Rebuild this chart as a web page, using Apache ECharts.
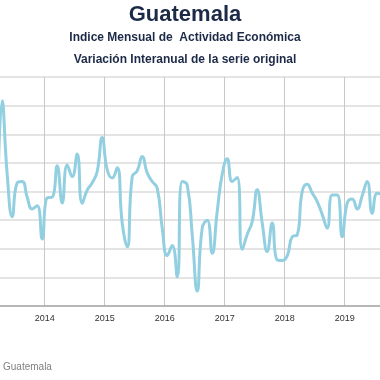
<!DOCTYPE html>
<html>
<head>
<meta charset="utf-8">
<script src="https://cdn.jsdelivr.net/npm/echarts@6/dist/echarts.min.js"></script>
<style>
html,body{margin:0;padding:0;background:#fff;overflow:hidden;width:380px;height:380px;position:relative}
#c{position:absolute;left:-40px;top:0;width:450px;height:380px}
</style>
</head>
<body>
<div id="c"></div>
<script>
var months = [
  '2013-03','2013-04','2013-05','2013-06','2013-07','2013-08','2013-09','2013-10','2013-11','2013-12',
  '2014-01','2014-02','2014-03','2014-04','2014-05','2014-06','2014-07','2014-08','2014-09','2014-10','2014-11','2014-12',
  '2015-01','2015-02','2015-03','2015-04','2015-05','2015-06','2015-07','2015-08','2015-09','2015-10','2015-11','2015-12',
  '2016-01','2016-02','2016-03','2016-04','2016-05','2016-06','2016-07','2016-08','2016-09','2016-10','2016-11','2016-12',
  '2017-01','2017-02','2017-03','2017-04','2017-05','2017-06','2017-07','2017-08','2017-09','2017-10','2017-11','2017-12',
  '2018-01','2018-02','2018-03','2018-04','2018-05','2018-06','2018-07','2018-08','2018-09','2018-10','2018-11','2018-12',
  '2019-01','2019-02','2019-03','2019-04','2019-05','2019-06','2019-07','2019-08'
];
var guatemala = [
  2.8, 7.17, 4.6, 3.12, 4.3, 4.35, 3.8, 3.39, 3.5, 2.34,
  3.78, 3.8, 4.9, 3.6, 4.93, 4.52, 5.31, 3.59, 4.05, 4.3, 4.7, 5.89,
  4.76, 4.47, 4.83, 2.9, 2.07, 4.52, 4.72, 5.22, 4.65, 4.35, 4.12, 2.73,
  1.76, 2.11, 1.02, 4.35, 4.23, 2.5, 0.52, 2.72, 3.0, 1.84, 3.3, 4.6,
  5.14, 4.35, 4.49, 1.98, 2.5, 2.95, 4.06, 2.9, 1.9, 2.9, 1.61, 1.59,
  1.75, 2.42, 2.48, 4.0, 4.25, 3.95, 3.65, 3.2, 2.72, 3.88, 3.88, 2.42,
  3.6, 3.74, 3.39, 3.85, 4.35, 3.24, 3.94, 3.9
];
var seriesName = 'Guatemala';
var titleText = 'Guatemala';
var subtitle1 = 'Indice Mensual de  Actividad Económica';
var subtitle2 = 'Variación Interanual de la serie original';

function toYearFrac(s) {
  var p = s.split('-');
  return Number(p[0]) + (Number(p[1]) - 0.5) / 12;
}
var points = months.map(function (m, i) { return [toYearFrac(m), guatemala[i]]; });

var chart = echarts.init(document.getElementById('c'), null, {renderer: 'canvas'});
chart.setOption({
  animation: false,
  backgroundColor: '#ffffff',
  title: [
    {text: titleText, left: 'center', top: -1,
     textStyle: {fontFamily: 'Liberation Sans', fontWeight: 'bold', fontSize: 22, color: '#1c2a47'}},
    {text: subtitle1, left: 'center', top: 27,
     textStyle: {fontFamily: 'Liberation Sans', fontWeight: 'bold', fontSize: 12, color: '#1c2a47'}},
    {text: subtitle2, left: 'center', top: 49,
     textStyle: {fontFamily: 'Liberation Sans', fontWeight: 'bold', fontSize: 12, color: '#1c2a47'}}
  ],
  legend: {
    left: 23, top: 362, itemWidth: 14, itemHeight: 10, padding: 0,
    data: [seriesName],
    textStyle: {fontFamily: 'Liberation Sans', fontSize: 10, color: '#808080'}
  },
  grid: {left: 24.7, right: 5.3, top: 77, bottom: 74, containLabel: false, outerBoundsMode: 'none'},
  xAxis: {
    type: 'value', min: 2013, max: 2020, interval: 1,
    axisLine: {show: true, lineStyle: {color: '#a8a8a8', width: 1.5}},
    axisTick: {show: false},
    axisLabel: {fontFamily: 'Liberation Sans', fontSize: 9, color: '#333', margin: 8,
                showMinLabel: false, showMaxLabel: false,
                formatter: function (v) { return String(v); }},
    splitLine: {show: true, lineStyle: {color: '#c8c8c8', width: 1}}
  },
  yAxis: {
    type: 'value', min: 0, max: 8, interval: 1,
    axisLine: {show: false}, axisTick: {show: false},
    axisLabel: {show: false},
    splitLine: {show: true, lineStyle: {color: '#e4e4e4', width: 2}}
  },
  series: [{
    name: seriesName, type: 'line', data: points, smooth: true,
    symbol: 'none', clip: true,
    lineStyle: {color: '#92cfe0', width: 3},
    itemStyle: {color: '#92cfe0'}
  }]
});
</script>
</body>
</html>
